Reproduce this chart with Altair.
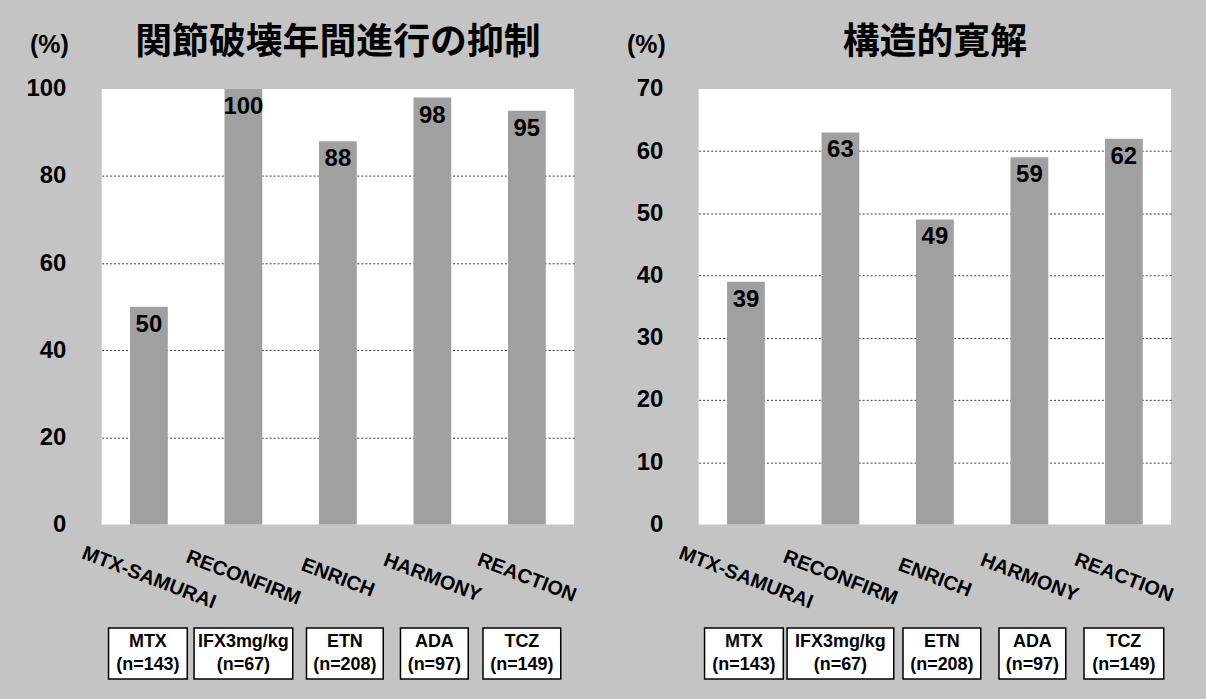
import altair as alt
import pandas as pd

# ---- data ----
trials = ["MTX-SAMURAI", "RECONFIRM", "ENRICH", "HARMONY", "REACTION"]
drugs = ["MTX", "IFX3mg/kg", "ETN", "ADA", "TCZ"]
n_patients = [143, 67, 208, 97, 149]
inhibition = [50, 100, 88, 98, 95]      # 関節破壊年間進行の抑制 (%)
remission = [39, 63, 49, 59, 62]        # 構造的寛解 (%)

left_title = "関節破壊年間進行の抑制"
right_title = "構造的寛解"
left_ticks = [0, 20, 40, 60, 80, 100]
right_ticks = [0, 10, 20, 30, 40, 50, 60, 70]

# ---- styling ----
W, H = 474, 437
BG = "#c4c4c4"
BAR = "#a0a0a0"
LATIN = "Liberation Sans"
CJK = "Noto Sans CJK JP"
# box width (px) and horizontal nudge per drug box, per panel
left_boxes = [(79, -1), (99, 0), (77, 7), (68, 2), (78, -5)]
right_boxes = [(79, -2), (107, 0), (78, 7), (67, 3), (80, 0)]


def panel(values, ticks, title, boxes):
    df = pd.DataFrame({
        "trial": trials,
        "value": values,
        "box": [f"{d}\n(n={n})" for d, n in zip(drugs, n_patients)],
    })
    ymax = ticks[-1]
    xenc = alt.X(
        "trial:N", sort=trials,
        scale=alt.Scale(paddingInner=0.6, paddingOuter=0.3),
        axis=alt.Axis(
            title=None, labelAngle=21, labelAlign="center", labelBaseline="middle",
            labelPadding=53, ticks=False, domain=False, labelFontSize=20,
            labelFontWeight="bold", labelColor="black", labelFont=LATIN,
        ),
    )
    yenc = alt.Y(
        "value:Q",
        scale=alt.Scale(domain=[0, ymax], nice=False),
        axis=alt.Axis(
            values=ticks, title="(%)", titleAngle=0, titleX=-53, titleY=-45,
            titleAlign="center", titleBaseline="middle", titleFontSize=25,
            titleFontWeight="bold", titleFont=LATIN, titleColor="black",
            labelFontSize=24, labelFontWeight="bold", labelFont=LATIN,
            labelColor="black", labelPadding=36, ticks=False, domain=False,
            grid=True, gridColor="#3a3a3a", gridDash=[2, 2], gridWidth=1,
            gridOpacity=alt.condition(f"datum.value > 0 && datum.value < {ymax}",
                                      alt.value(1), alt.value(0)),
        ),
    )
    base = alt.Chart(df)
    bars = base.mark_bar(color=BAR).encode(x=xenc, y=yenc)
    labels = base.mark_text(
        baseline="middle", dy=18, fontSize=24, fontWeight="bold", font=LATIN, color="black"
    ).encode(x=xenc, y=yenc, text="value:Q")

    layers = [bars, labels]
    for trial, (bw, dx) in zip(trials, boxes):
        sub = base.transform_filter(alt.datum.trial == trial)
        layers.append(
            sub.mark_bar(width=bw, xOffset=dx, fill="white", stroke="black", strokeWidth=1.5)
            .encode(x=alt.X("trial:N", sort=trials), y=alt.value(H + 104), y2=alt.value(H + 155))
        )
        layers.append(
            sub.mark_text(lineBreak="\n", fontSize=18, fontWeight="bold", font=LATIN,
                          lineHeight=23, baseline="middle", xOffset=dx, color="black")
            .encode(x=alt.X("trial:N", sort=trials), y=alt.value(H + 118), text="box:N")
        )
    return alt.layer(*layers).properties(
        width=W, height=H,
        title=alt.TitleParams(title, fontSize=37, font=CJK, fontWeight="bold",
                              color="black", anchor="middle", offset=-30),
    )


chart = alt.hconcat(
    panel(inhibition, left_ticks, left_title, left_boxes),
    panel(remission, right_ticks, right_title, right_boxes),
    spacing=47,
).properties(
    background=BG,
    padding={"left": 25, "top": 23, "right": 30, "bottom": 30},
).configure_view(fill="white", stroke=None)

chart.save("out.html", embed_options={"renderer": "svg", "actions": False})
